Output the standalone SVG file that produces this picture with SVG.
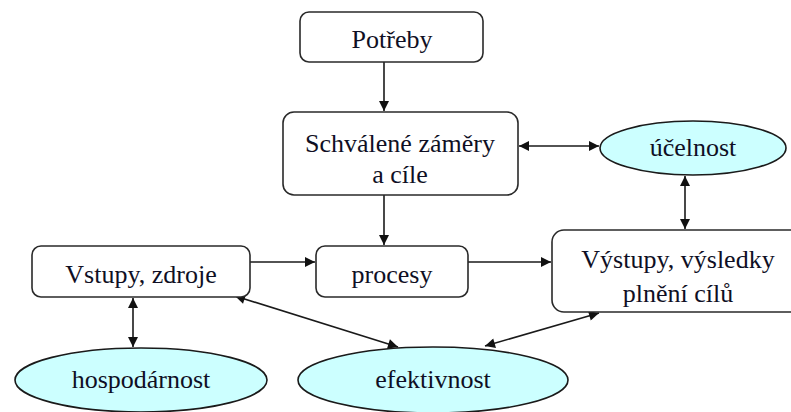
<svg xmlns="http://www.w3.org/2000/svg" width="791" height="412" viewBox="0 0 791 412">
  <style>
    .box { fill: #ffffff; stroke: #2a2a2a; stroke-width: 1.6; }
    .oval { fill: #ccffff; stroke: #1a1a1a; stroke-width: 1.6; }
    .lbl { font-family: "Liberation Serif", "Times New Roman", serif; font-size: 26px; fill: #0f0f24; text-anchor: middle; }
    .edge { stroke: #1a1a1a; stroke-width: 1.6; fill: none; }
  </style>
  <defs>
    <marker id="arrow" viewBox="0 0 10 10" refX="10" refY="5" markerWidth="13" markerHeight="10" markerUnits="userSpaceOnUse" orient="auto-start-reverse">
      <path d="M0,0 L10,5 L0,10 Z" fill="#111111"/>
    </marker>
  </defs>
  <rect width="791" height="412" fill="#ffffff"/>

  <g id="edges">
    <line class="edge" x1="384" y1="62" x2="384" y2="111" marker-end="url(#arrow)"/>
    <line class="edge" x1="384" y1="195" x2="384" y2="245" marker-end="url(#arrow)"/>
    <line class="edge" x1="250" y1="262" x2="315" y2="262" marker-end="url(#arrow)"/>
    <line class="edge" x1="468" y1="262" x2="551" y2="262" marker-end="url(#arrow)"/>
    <line class="edge" x1="519" y1="146" x2="599" y2="146" marker-start="url(#arrow)" marker-end="url(#arrow)"/>
    <line class="edge" x1="685" y1="176" x2="685" y2="229" marker-start="url(#arrow)" marker-end="url(#arrow)"/>
    <line class="edge" x1="133" y1="298" x2="133" y2="347" marker-start="url(#arrow)" marker-end="url(#arrow)"/>
    <line class="edge" x1="235" y1="296" x2="398" y2="347" marker-start="url(#arrow)" marker-end="url(#arrow)"/>
    <line class="edge" x1="485" y1="346" x2="599" y2="313" marker-start="url(#arrow)" marker-end="url(#arrow)"/>
  </g>

  <g id="potreby">
    <rect class="box" x="300" y="12" width="183" height="50" rx="9"/>
    <text class="lbl" x="392" y="48">Potřeby</text>
  </g>

  <g id="zamery">
    <rect class="box" x="283" y="112" width="235" height="83" rx="11"/>
    <text class="lbl" x="400" y="152">Schválené záměry</text>
    <text class="lbl" x="400" y="183">a cíle</text>
  </g>

  <g id="ucelnost">
    <ellipse class="oval" cx="693" cy="148" rx="93" ry="27"/>
    <text class="lbl" x="693" y="156">účelnost</text>
  </g>

  <g id="vstupy">
    <rect class="box" x="32" y="246" width="218" height="51" rx="9"/>
    <text class="lbl" x="141" y="283">Vstupy, zdroje</text>
  </g>

  <g id="procesy">
    <rect class="box" x="316" y="246" width="152" height="51" rx="9"/>
    <text class="lbl" x="392" y="283">procesy</text>
  </g>

  <g id="vystupy">
    <rect class="box" x="552" y="230" width="252" height="82" rx="12"/>
    <text class="lbl" x="678" y="268">Výstupy, výsledky</text>
    <text class="lbl" x="678" y="302">plnění cílů</text>
  </g>

  <g id="hospodarnost">
    <ellipse class="oval" cx="141" cy="380" rx="126" ry="32"/>
    <text class="lbl" x="141" y="388">hospodárnost</text>
  </g>

  <g id="efektivnost">
    <ellipse class="oval" cx="433" cy="380" rx="135" ry="33"/>
    <text class="lbl" x="433" y="388">efektivnost</text>
  </g>
</svg>
